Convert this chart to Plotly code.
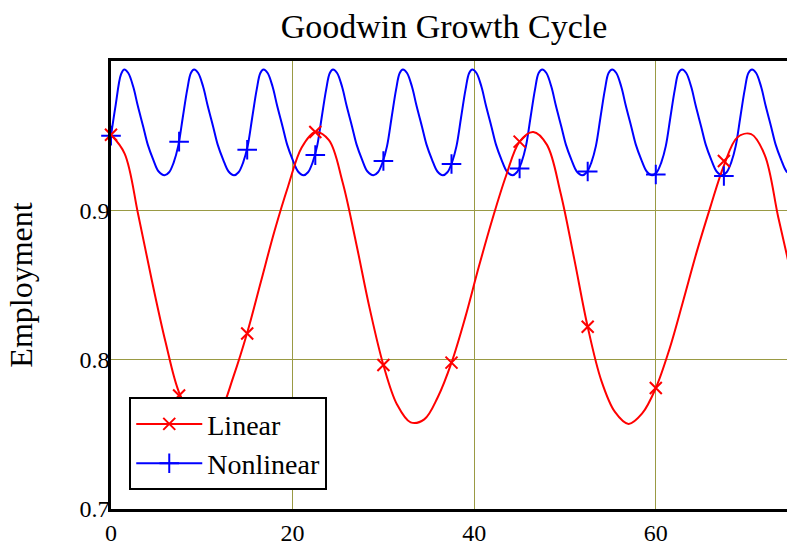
import plotly.graph_objects as go

# ---- data ----
linear_x = [0, 1.5, 3, 4.5, 6, 7.5, 9, 10.5, 12, 13.5, 15, 16.5, 18, 19.5, 21, 22.5,
            24, 25.5, 27, 28.5, 30, 31.5, 33, 34.5, 36, 37.5, 39, 40.5, 42, 43.5, 45,
            46.5, 48, 49.5, 51, 52.5, 54, 55.5, 57, 58.5, 60, 61.5, 63, 64.5, 66, 67.5,
            69, 70.5, 72, 73.5, 75]
linear_y = [0.9506, 0.938, 0.897, 0.853, 0.812, 0.778, 0.762, 0.757, 0.765, 0.789, 0.818,
            0.852, 0.886, 0.916, 0.942, 0.9524, 0.947, 0.919, 0.878, 0.834, 0.7964, 0.770,
            0.758, 0.760, 0.775, 0.798, 0.828, 0.862, 0.894, 0.923, 0.946, 0.9525, 0.944,
            0.912, 0.868, 0.822, 0.786, 0.765, 0.757, 0.764, 0.781, 0.807, 0.839, 0.872,
            0.902, 0.930, 0.949, 0.951, 0.937, 0.895, 0.855]

nonlinear_x = [0, 0.5, 1.1, 1.45, 1.9, 2.45, 2.95, 3.55, 4.05, 4.65, 5.25, 5.9,
               6.4, 6.9, 7.4, 7.9, 8.4, 8.8, 9.15, 9.6, 10.15, 10.65, 11.25, 11.75, 12.35, 12.95, 13.55,
               14.05, 14.55, 15.05, 15.55, 16.05, 16.45, 16.8, 17.25, 17.8, 18.3, 18.9, 19.4, 20.0, 20.6, 21.2,
               21.7, 22.2, 22.7, 23.2, 23.7, 24.1, 24.45, 24.9, 25.45, 25.95, 26.55, 27.05, 27.65, 28.25, 28.9,
               29.4, 29.9, 30.4, 30.9, 31.4, 31.8, 32.15, 32.6, 33.15, 33.65, 34.25, 34.75, 35.35, 35.95, 36.55,
               37.05, 37.55, 38.05, 38.55, 39.05, 39.45, 39.8, 40.25, 40.8, 41.3, 41.9, 42.4, 43.0, 43.6, 44.2,
               44.7, 45.2, 45.7, 46.2, 46.7, 47.1, 47.5, 47.95, 48.5, 49.0, 49.6, 50.1, 50.7, 51.3, 51.9,
               52.4, 52.9, 53.4, 53.9, 54.4, 54.8, 55.2, 55.65, 56.2, 56.7, 57.3, 57.8, 58.4, 59.0, 59.6,
               60.1, 60.6, 61.1, 61.6, 62.1, 62.5, 62.9, 63.35, 63.9, 64.4, 65.0, 65.5, 66.1, 66.7, 67.3,
               67.8, 68.3, 68.8, 69.3, 69.8, 70.2, 70.6, 71.05, 71.6, 72.1, 72.7, 73.2, 73.8, 74.4, 75.0]
nonlinear_y = [0.950, 0.970, 0.991, 0.9943, 0.992, 0.9827, 0.970, 0.956, 0.944, 0.934, 0.926, 0.9235,
               0.9255, 0.932, 0.943, 0.962, 0.981, 0.992, 0.9943, 0.992, 0.9827, 0.970, 0.956, 0.944, 0.934, 0.926, 0.9235,
               0.9255, 0.932, 0.943, 0.962, 0.981, 0.992, 0.9943, 0.992, 0.9827, 0.970, 0.956, 0.944, 0.934, 0.926, 0.9235,
               0.9255, 0.932, 0.943, 0.962, 0.981, 0.992, 0.9943, 0.992, 0.9827, 0.970, 0.956, 0.944, 0.934, 0.926, 0.9235,
               0.9255, 0.932, 0.943, 0.962, 0.981, 0.992, 0.9943, 0.992, 0.9827, 0.970, 0.956, 0.944, 0.934, 0.926, 0.9235,
               0.9255, 0.932, 0.943, 0.962, 0.981, 0.992, 0.9943, 0.992, 0.9827, 0.970, 0.956, 0.944, 0.934, 0.926, 0.9235,
               0.9255, 0.932, 0.943, 0.962, 0.981, 0.992, 0.9943, 0.992, 0.9827, 0.970, 0.956, 0.944, 0.934, 0.926, 0.9235,
               0.9255, 0.932, 0.943, 0.962, 0.981, 0.992, 0.9943, 0.992, 0.9827, 0.970, 0.956, 0.944, 0.934, 0.926, 0.9235,
               0.9255, 0.932, 0.943, 0.962, 0.981, 0.992, 0.9943, 0.992, 0.9827, 0.970, 0.956, 0.944, 0.934, 0.926, 0.9235,
               0.9255, 0.932, 0.943, 0.962, 0.981, 0.992, 0.9943, 0.992, 0.9827, 0.970, 0.956, 0.944, 0.934, 0.926, 0.9235]

marker_x = [0, 7.5, 15, 22.5, 30, 37.5, 45, 52.5, 60, 67.5, 75]
linear_marks = [0.9506, 0.776, 0.8175, 0.9524, 0.7964, 0.798, 0.946, 0.822, 0.781, 0.933, 0.855]
nonlinear_marks = [0.950, 0.946, 0.9406, 0.937, 0.933, 0.931, 0.928, 0.926, 0.924, 0.923, 0.924]

x_ticks = [0, 20, 40, 60]
y_ticks = [0.7, 0.8, 0.9]
y_tick_labels = ["0.7", "0.8", "0.9"]

title_text = "Goodwin Growth Cycle"
y_title = "Employment"
names = ["Linear", "Nonlinear"]

RED = "#ff0000"
BLUE = "#0000ff"
FONT = "Liberation Serif, Times New Roman, serif"
GRID = "#9a9a44"

fig = go.Figure()

# lines
fig.add_trace(go.Scatter(x=nonlinear_x, y=nonlinear_y, mode="lines",
                         line=dict(color=BLUE, width=2, shape="spline", smoothing=1),
                         showlegend=False, hoverinfo="skip"))
fig.add_trace(go.Scatter(x=linear_x, y=linear_y, mode="lines",
                         line=dict(color=RED, width=2, shape="spline", smoothing=1),
                         showlegend=False, hoverinfo="skip"))
# markers
fig.add_trace(go.Scatter(x=marker_x, y=nonlinear_marks, mode="markers", cliponaxis=False,
                         marker=dict(symbol="cross-thin", size=14,
                                     line=dict(color=BLUE, width=2)),
                         showlegend=False))
fig.add_trace(go.Scatter(x=marker_x, y=linear_marks, mode="markers", cliponaxis=False,
                         marker=dict(symbol="x-thin", size=12,
                                     line=dict(color=RED, width=2)),
                         showlegend=False))
# legend entries
fig.add_trace(go.Scatter(x=[None], y=[None], mode="lines+markers", name=names[0],
                         line=dict(color=RED, width=2),
                         marker=dict(symbol="x-thin", size=12, line=dict(color=RED, width=2))))
fig.add_trace(go.Scatter(x=[None], y=[None], mode="lines+markers", name=names[1],
                         line=dict(color=BLUE, width=2),
                         marker=dict(symbol="cross-thin", size=14, line=dict(color=BLUE, width=2))))

fig.update_layout(
    width=787, height=546,
    margin=dict(l=111, r=0, t=61, b=35),
    paper_bgcolor="white", plot_bgcolor="white",
    font=dict(family=FONT, color="black", size=24),
    title=dict(text=title_text, x=444/787, xref="container", xanchor="center",
               y=1 - 26/546, yref="container", yanchor="middle",
               font=dict(family=FONT, size=34, color="black")),
    showlegend=True,
    legend=dict(x=0.027, y=0.042, xanchor="left", yanchor="bottom",
                bgcolor="white", bordercolor="black", borderwidth=2,
                font=dict(family=FONT, size=28, color="black"),
                itemwidth=66, tracegroupgap=0),
)
fig.update_xaxes(range=[0, 74.45], tickvals=x_ticks, showgrid=True, gridcolor=GRID, gridwidth=1,
                 showline=True, linecolor="black", linewidth=2.5, mirror=True,
                 zeroline=False, ticks="", tickfont=dict(family=FONT, size=24, color="black"))
fig.update_yaxes(range=[0.7, 1.0], tickvals=y_ticks, ticktext=y_tick_labels,
                 showgrid=True, gridcolor=GRID, gridwidth=1,
                 showline=True, linecolor="black", linewidth=2.5, mirror=False,
                 zeroline=False, ticks="", ticklabelstandoff=-6,
                 tickfont=dict(family=FONT, size=24, color="black"),
                 title=dict(text=y_title, font=dict(family=FONT, size=32, color="black"), standoff=38))

fig.write_html("out.html")
